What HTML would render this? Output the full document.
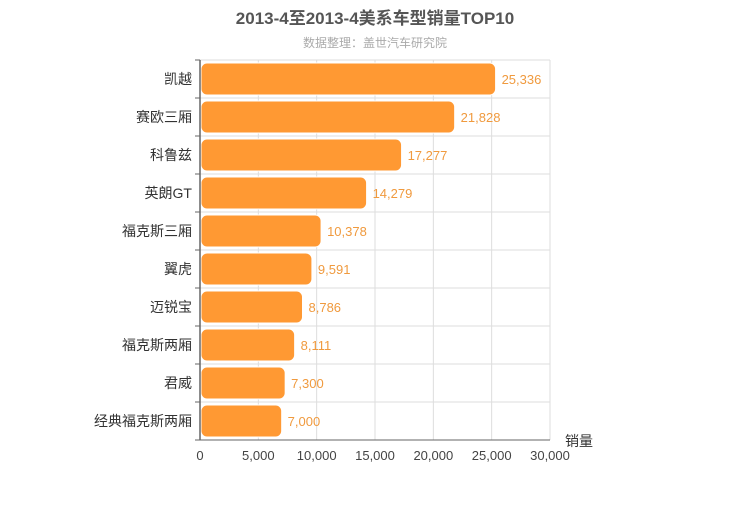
<!DOCTYPE html>
<html><head><meta charset="utf-8"><style>
body{margin:0;background:#fff;font-family:"Liberation Sans","Noto Sans CJK SC",sans-serif}
</style></head><body>
<svg width="750" height="500" xmlns="http://www.w3.org/2000/svg" font-family="Liberation Sans, Noto Sans CJK SC, sans-serif">
<text x="375" y="24" text-anchor="middle" font-size="17" font-weight="bold" fill="#555">2013-4至2013-4美系车型销量TOP10</text>
<text x="375" y="47" text-anchor="middle" font-size="12" fill="#aaa">数据整理：盖世汽车研究院</text>
<g id="grid"></g><g id="bars"></g><g id="axes"></g>
<text x="565" y="446" font-size="14" fill="#333">销量</text>
</svg>
<script>
const categories=["凯越","赛欧三厢","科鲁兹","英朗GT","福克斯三厢","翼虎","迈锐宝","福克斯两厢","君威","经典福克斯两厢"];
const values=[25336,21828,17277,14279,10378,9591,8786,8111,7300,7000];
const ticks=[0,5000,10000,15000,20000,25000,30000];
const x0=200,x1=550,y0=60,y1=440,xmax=30000;
const xs=v=>x0+v/xmax*(x1-x0);
const bh=(y1-y0)/categories.length;
const NS="http://www.w3.org/2000/svg";
function mk(t,a,p){const e=document.createElementNS(NS,t);for(const k in a)e.setAttribute(k,a[k]);p.appendChild(e);return e;}
const g=document.getElementById('grid'),b=document.getElementById('bars'),ax=document.getElementById('axes');
const fmt=v=>v.toLocaleString('en-US');
ticks.forEach(t=>{
 if(t>0){const l=mk('line',{x1:xs(t),x2:xs(t),y1:y0,y2:y1,stroke:'#ddd'},g);
 
 }
 const tx=mk('text',{x:xs(t),y:y1+20,'text-anchor':'middle','font-size':13,fill:'#444'},ax);tx.textContent=fmt(t);
 
 
});
for(let i=0;i<=categories.length;i++){const y=y0+i*bh;const l=mk('line',{x1:x0,x2:x1,y1:y,y2:y,stroke:'#ddd'},g);
 
 
 mk('line',{x1:x0-5,x2:x0,y1:y,y2:y,stroke:'#666'},ax);}
mk('line',{x1:x0,x2:x0,y1:y0,y2:y1,stroke:'#666','stroke-width':1.5},ax);
mk('line',{x1:x0,x2:x1,y1:y1,y2:y1,stroke:'#666'},ax);
categories.forEach((c,i)=>{
 const cy=y0+(i+0.5)*bh;
 const r=mk('rect',{x:x0+1,y:cy-16,width:xs(values[i])-x0-1,height:32,rx:6,fill:'#ff9933',stroke:'#fff','stroke-width':1},b);
 
 
 const lv=mk('text',{x:xs(values[i])+6,y:cy+5,'font-size':13,fill:'#f09a3e'},b);lv.textContent=fmt(values[i]);
 
 
 const lc=mk('text',{x:x0-8,y:cy+5,'text-anchor':'end','font-size':14,fill:'#333'},ax);lc.textContent=c;
 
 
});
</script>
</body></html>
